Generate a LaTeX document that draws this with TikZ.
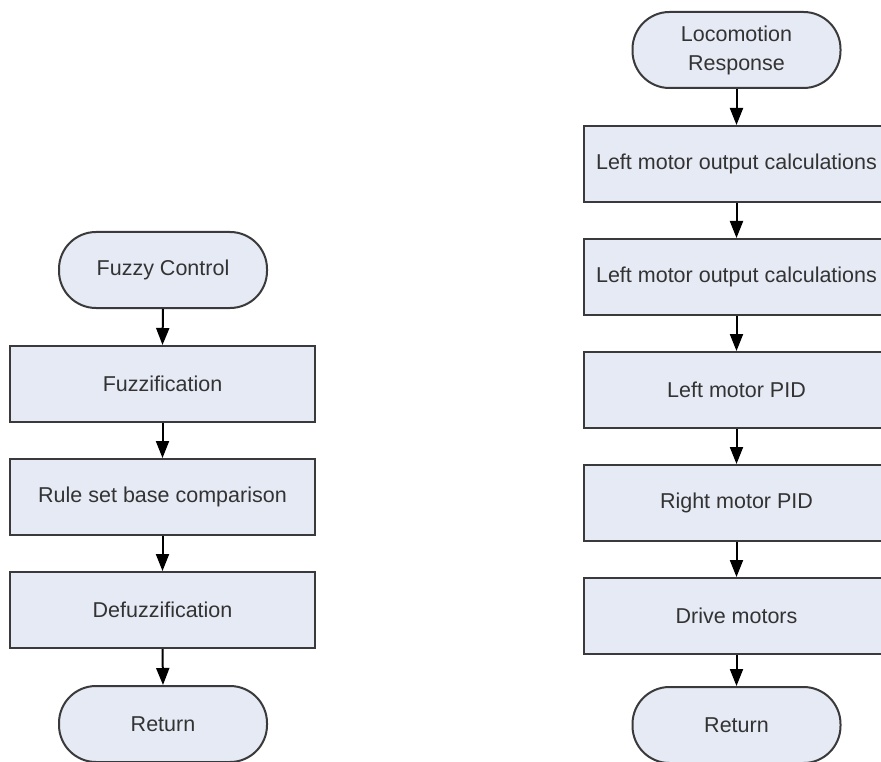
\documentclass[tikz,border=0pt]{standalone}
\usepackage{fontspec}
\setmainfont{Liberation Sans}
\usetikzlibrary{arrows.meta}
\definecolor{boxfill}{HTML}{E6EAF5}
\definecolor{boxline}{HTML}{3A3A3A}
\definecolor{txt}{HTML}{333333}
\begin{document}
\begin{tikzpicture}[x=1pt,y=-1pt,
  proc/.style={draw=boxline, line width=2pt, fill=boxfill,
    minimum width=305pt, minimum height=76pt, inner sep=0pt,
    text=txt, font=\fontsize{21.5}{29}\selectfont, align=center},
  term/.style={proc, minimum width=208pt, rounded corners=37pt},
  flow/.style={draw=black, line width=2pt,
    -{Triangle[length=17pt,width=13pt]}}]
\useasboundingbox (0,0) rectangle (881,762);
\clip (0,0) rectangle (881,762);
\fill[white] (0,0) rectangle (881,762);

% Fuzzy control flow
\node[term] (fz)   at (163,270)   {Fuzzy Control};
\node[proc] (fzf)  at (162.5,384) {Fuzzification};
\node[proc] (rule) at (162.5,497) {Rule set base comparison};
\node[proc] (dfz)  at (162.5,610) {Defuzzification};
\node[term] (ret1) at (163,724)   {Return};

% Locomotion response flow
\node[term] (loco) at (736.5,50)  {Locomotion\\Response};
\node[proc] (lm1)  at (736.5,164) {Left motor output calculations};
\node[proc] (lm2)  at (736.5,277) {Left motor output calculations};
\node[proc] (lpid) at (736.5,390) {Left motor PID};
\node[proc] (rpid) at (736.5,503) {Right motor PID};
\node[proc] (drv)  at (736.5,616) {Drive motors};
\node[term] (ret2) at (736.5,725) {Return};

\foreach \a/\b in {fz/fzf, fzf/rule, rule/dfz, dfz/ret1,
                   loco/lm1, lm1/lm2, lm2/lpid, lpid/rpid, rpid/drv, drv/ret2}
  \draw[flow] (\a.south) -- (\b.north);
\end{tikzpicture}
\end{document}
